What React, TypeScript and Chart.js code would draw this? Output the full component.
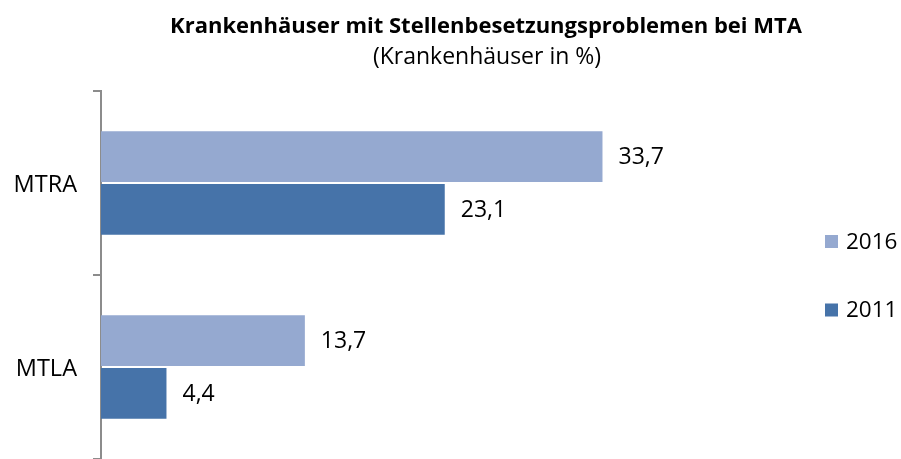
import React, { useEffect, useRef } from "react";
import { Chart, registerables } from "chart.js";

Chart.register(...registerables);

const categories = ["MTRA", "MTLA"];
const seriesNames = ["2016", "2011"];
const values2016 = [33.7, 13.7];
const values2011 = [23.1, 4.4];
const colors = ["#95A9D0", "#4673A9"];
const titleText = "Krankenhäuser mit Stellenbesetzungsproblemen bei MTA";
const subtitleText = "(Krankenhäuser in %)";

const FONT = "'Open Sans', 'DejaVu Sans', sans-serif";

const fmt = (v: number) => v.toFixed(1).replace(".", ",");

const overlayPlugin = {
  id: "overlay",
  afterDatasetsDraw(chart: any) {
    const ctx = chart.ctx;
    ctx.save();
    ctx.fillStyle = "#000";
    ctx.font = `23px ${FONT}`;
    ctx.textBaseline = "middle";
    ctx.textAlign = "left";
    chart.data.datasets.forEach((ds: any, di: number) => {
      const meta = chart.getDatasetMeta(di);
      meta.data.forEach((el: any, i: number) => {
        ctx.fillText(fmt(ds.data[i]), el.x + 16, el.y + 1);
      });
    });
    // category labels
    const yScale = chart.scales.y;
    ctx.textAlign = "right";
    ctx.font = `23.5px ${FONT}`;
    categories.forEach((c, i) => {
      ctx.fillText(c, 77, yScale.getPixelForValue(i) + 2);
    });
    // title
    ctx.textAlign = "center";
    ctx.textBaseline = "alphabetic";
    ctx.font = `bold 22px ${FONT}`;
    ctx.fillText(titleText, 486, 33);
    ctx.font = `23px ${FONT}`;
    ctx.fillText(subtitleText, 487, 64);
    // legend
    const legendY = [241.5, 310];
    ctx.textAlign = "left";
    ctx.textBaseline = "middle";
    ctx.font = `22.5px ${FONT}`;
    seriesNames.forEach((name, i) => {
      ctx.fillStyle = colors[i];
      ctx.fillRect(825, legendY[i] - 6.5, 13, 13);
      ctx.fillStyle = "#000";
      ctx.fillText(name, 846, legendY[i] + 1);
    });
    ctx.restore();
  },
};

export default function App() {
  const ref = useRef<HTMLCanvasElement | null>(null);
  useEffect(() => {
    if (!ref.current) return;
    const chart = new Chart(ref.current, {
      type: "bar",
      data: {
        labels: categories,
        datasets: [
          { label: seriesNames[0], data: values2016, backgroundColor: colors[0] },
          { label: seriesNames[1], data: values2011, backgroundColor: colors[1] },
        ],
      },
      options: {
        indexAxis: "y",
        responsive: false,
        animation: false,
        categoryPercentage: 0.575,
        barPercentage: 0.96,
        layout: { padding: { top: 91, bottom: 0, left: 0, right: 207 } },
        plugins: {
          legend: { display: false },
          title: { display: false },
          tooltip: { enabled: false },
        },
        scales: {
          x: { display: false, min: 0, max: 39.85 },
          y: {
            afterFit: (scale: any) => {
              scale.width = 101;
            },
            border: { display: true, color: "#8C8C8C", width: 2 },
            grid: {
              drawOnChartArea: false,
              drawTicks: true,
              tickLength: 8,
              color: "#8C8C8C",
              lineWidth: 2,
            },
            ticks: { display: false },
          },
        },
      },
      plugins: [overlayPlugin],
    });
    return () => chart.destroy();
  }, []);
  return (
    <div style={{ position: "absolute", left: 0, top: 0, width: 901, height: 459, background: "#fff" }}>
      <canvas ref={ref} width={901} height={459} />
    </div>
  );
}
